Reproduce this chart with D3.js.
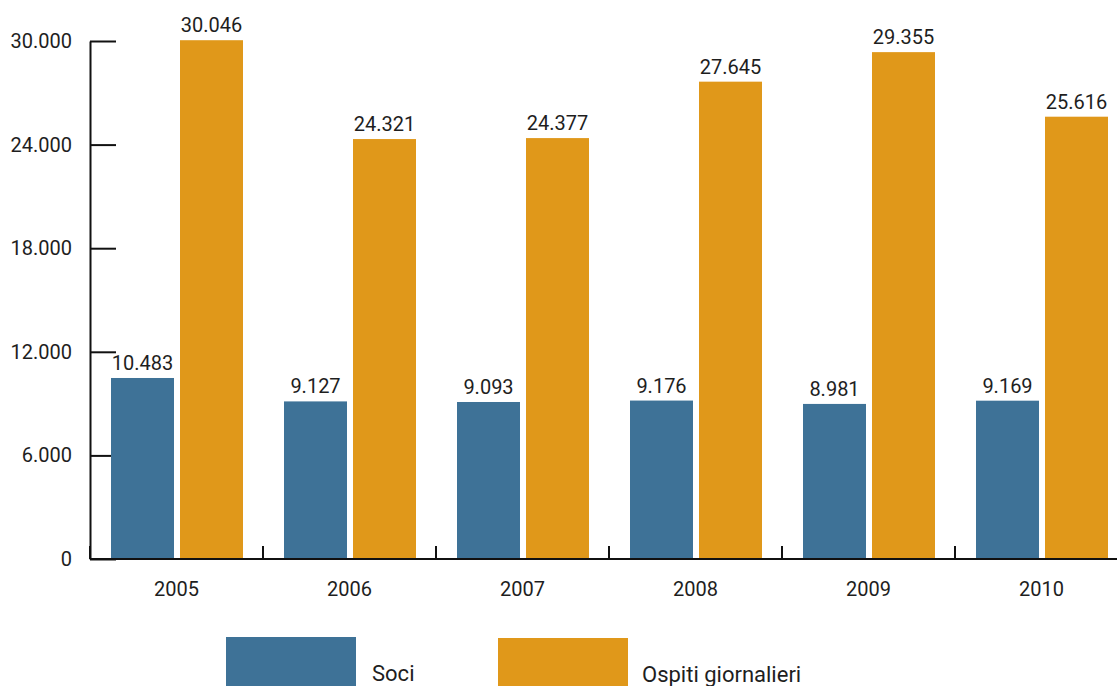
<!DOCTYPE html>
<html>
<head>
<meta charset="utf-8">
<script src="https://cdn.jsdelivr.net/npm/d3@7"></script>
<style>
  html, body { margin: 0; padding: 0; background: #fff; }
  svg { display: block; }
  text { font-family: Roboto, "DejaVu Sans", sans-serif; fill: #1e1e1e; }
</style>
</head>
<body>
<svg id="chart" width="1117" height="686"></svg>
<script>
// Presenze annuali: soci e ospiti giornalieri
const years = ["2005", "2006", "2007", "2008", "2009", "2010"];
const soci = [10483, 9127, 9093, 9176, 8981, 9169];
const ospiti = [30046, 24321, 24377, 27645, 29355, 25616];
const seriesNames = ["Soci", "Ospiti giornalieri"];
const seriesColors = ["#3e7297", "#e0981a"];
const yTicks = [0, 6000, 12000, 18000, 24000, 30000];

const rows = years.map((y, i) => ({ year: y, values: [soci[i], ospiti[i]] }));

const it = d3.formatLocale({ decimal: ",", thousands: ".", grouping: [3], currency: ["€", ""] });
const fmt = it.format(",d");

const svg = d3.select("#chart");
const x0Left = 90, x0Right = 1128;
const yBase = 559, yTop = 41;

const x0 = d3.scaleBand().domain(years).range([x0Left, x0Right]);
const x1 = d3.scaleBand().domain(seriesNames).range([21, x0.bandwidth() - 20]).paddingInner(0.087);
const y = d3.scaleLinear().domain([0, 30000]).range([yBase, yTop]);
const color = d3.scaleOrdinal().domain(seriesNames).range(seriesColors);

// Y axis with ticks pointing into the plot
const yAxis = d3.axisLeft(y)
  .tickValues(yTicks)
  .tickFormat(fmt)
  .tickSizeInner(-26)
  .tickSizeOuter(0)
  .tickPadding(18);

const gy = svg.append("g").attr("transform", `translate(${x0Left},0)`).call(yAxis);
gy.select(".domain").attr("stroke", "#111").attr("stroke-width", 2);
gy.selectAll(".tick line").attr("stroke", "#111").attr("stroke-width", 2);
gy.selectAll(".tick text").attr("font-size", 20).attr("fill", "#1e1e1e")
  .style("font-family", "Roboto, 'DejaVu Sans', sans-serif");

// Bars
const groups = svg.append("g").selectAll("g")
  .data(rows)
  .join("g")
  .attr("transform", d => `translate(${x0(d.year)},0)`);

groups.selectAll("rect")
  .data(d => d.values.map((v, k) => ({ key: seriesNames[k], value: v })))
  .join("rect")
  .attr("x", d => x1(d.key))
  .attr("width", x1.bandwidth())
  .attr("y", d => y(d.value))
  .attr("height", d => yBase - y(d.value))
  .attr("fill", d => color(d.key));

groups.selectAll("text.val")
  .data(d => d.values.map((v, k) => ({ key: seriesNames[k], value: v })))
  .join("text")
  .attr("class", "val")
  .attr("x", d => x1(d.key) + x1.bandwidth() / 2)
  .attr("y", d => y(d.value) - 8)
  .attr("text-anchor", "middle")
  .attr("font-size", 20)
  .text(d => fmt(d.value));

// X axis: baseline, boundary ticks and year labels
const gx = svg.append("g");
gx.append("line")
  .attr("x1", x0Left).attr("x2", x0Right)
  .attr("y1", yBase).attr("y2", yBase)
  .attr("stroke", "#111").attr("stroke-width", 2);

const bounds = years.map(d => x0(d)).concat([x0Right]);
gx.selectAll("line.bound")
  .data(bounds)
  .join("line")
  .attr("class", "bound")
  .attr("x1", d => d).attr("x2", d => d)
  .attr("y1", yBase).attr("y2", yBase - 13)
  .attr("stroke", "#111").attr("stroke-width", 2);

gx.selectAll("text.year")
  .data(years)
  .join("text")
  .attr("class", "year")
  .attr("x", d => x0(d) + x0.bandwidth() / 2)
  .attr("y", 596)
  .attr("text-anchor", "middle")
  .attr("font-size", 20)
  .text(d => d);

// Legend
const legendItems = [
  { name: seriesNames[0], rx: 226, ry: 637, tx: 372, ty: 681 },
  { name: seriesNames[1], rx: 498, ry: 638, tx: 642, ty: 682 }
];
const lg = svg.append("g");
lg.selectAll("rect")
  .data(legendItems)
  .join("rect")
  .attr("x", d => d.rx).attr("y", d => d.ry)
  .attr("width", 130).attr("height", d => 686 - d.ry)
  .attr("fill", d => color(d.name));
lg.selectAll("text")
  .data(legendItems)
  .join("text")
  .attr("x", d => d.tx).attr("y", d => d.ty)
  .attr("font-size", 22)
  .text(d => d.name);
</script>
</body>
</html>
